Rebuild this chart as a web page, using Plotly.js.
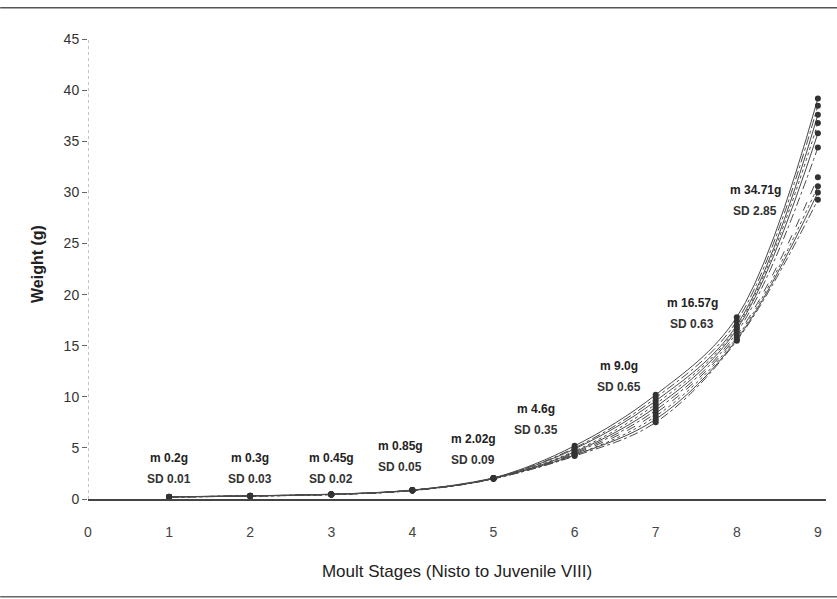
<!DOCTYPE html>
<html>
<head>
<meta charset="utf-8">
<script src="https://cdn.plot.ly/plotly-3.0.1.min.js"></script>
<style>html,body{margin:0;padding:0;background:#fff;}#chart{width:837px;height:599px;}</style>
</head>
<body>
<div id="chart"></div>
<script>
// Moult stages (x)
const stages = [1, 2, 3, 4, 5, 6, 7, 8, 9];
// Individual weight series (g)
const ind1  = [0.21, 0.32, 0.47, 0.88, 2.06, 5.2, 10.2, 17.8, 39.2];
const ind2  = [0.20, 0.31, 0.46, 0.87, 2.04, 5.0, 9.9, 17.4, 38.5];
const ind3  = [0.20, 0.30, 0.45, 0.86, 2.03, 4.9, 9.6, 17.0, 37.6];
const ind4  = [0.20, 0.30, 0.44, 0.85, 2.02, 4.7, 9.3, 16.8, 36.8];
const ind5  = [0.19, 0.29, 0.45, 0.84, 2.00, 4.6, 9.0, 16.6, 35.8];
const ind6  = [0.20, 0.28, 0.44, 0.83, 1.98, 4.5, 8.7, 16.3, 34.4];
const ind7  = [0.20, 0.30, 0.45, 0.82, 1.97, 4.4, 8.4, 16.0, 31.5];
const ind8  = [0.19, 0.29, 0.43, 0.84, 2.00, 4.3, 8.1, 15.8, 30.6];
const ind9  = [0.21, 0.31, 0.46, 0.86, 2.05, 4.3, 7.8, 15.6, 30.0];
const ind10 = [0.20, 0.30, 0.45, 0.85, 2.01, 4.2, 7.5, 15.5, 29.3];
const individuals = [ind1, ind2, ind3, ind4, ind5, ind6, ind7, ind8, ind9, ind10];
const dashes = ['solid', 'dashdot', 'solid', 'dot', 'solid', 'dashdot', 'dash', 'dot', 'solid', 'dashdot'];

// Stage annotations
const meanLabels = ['m 0.2g', 'm 0.3g', 'm 0.45g', 'm 0.85g', 'm 2.02g', 'm 4.6g', 'm 9.0g', 'm 16.57g', 'm 34.71g'];
const sdLabels   = ['SD 0.01', 'SD 0.03', 'SD 0.02', 'SD 0.05', 'SD 0.09', 'SD 0.35', 'SD 0.65', 'SD 0.63', 'SD 2.85'];
const labelX     = [1, 2, 3, 3.85, 4.75, 5.53, 6.55, 7.45, 8.23];
const labelY     = [3.0, 3.0, 3.0, 4.2, 4.9, 7.8, 12.0, 18.2, 29.3];

const xTicks = [0, 1, 2, 3, 4, 5, 6, 7, 8, 9];
const yTicks = [0, 5, 10, 15, 20, 25, 30, 35, 40, 45];

const traces = individuals.map((vals, i) => ({
  x: stages, y: vals, type: 'scatter', mode: 'lines+markers',
  line: {color: '#4a4a4a', width: 1, dash: dashes[i], shape: 'spline', smoothing: 1},
  marker: {color: '#333', size: 6},
  cliponaxis: false, showlegend: false, hoverinfo: 'x+y'
}));

const annotations = [];
meanLabels.forEach((t, i) => {
  annotations.push({x: labelX[i], y: labelY[i], xref: 'x', yref: 'y', text: '<b>' + t + '</b>',
    showarrow: false, font: {family: 'Liberation Sans, Arial', size: 12, color: '#222'}, yanchor: 'bottom', yshift: 1});
  annotations.push({x: labelX[i], y: labelY[i], xref: 'x', yref: 'y', text: '<b>' + sdLabels[i] + '</b>',
    showarrow: false, font: {family: 'Liberation Sans, Arial', size: 12, color: '#333'}, yanchor: 'top', yshift: -2});
});

const layout = {
  width: 837, height: 599,
  margin: {l: 88, r: 11, t: 29, b: 100},
  paper_bgcolor: '#fff', plot_bgcolor: '#fff',
  font: {family: 'Liberation Sans, Arial', color: '#333'},
  xaxis: {
    range: [0, 9.1], tickvals: xTicks, ticks: '', showgrid: false, zeroline: false,
    showline: true, linecolor: '#444', linewidth: 1.5,
    tickfont: {size: 14, color: '#444'}, ticklabelstandoff: 20,
    title: {text: 'Moult Stages (Nisto to Juvenile VIII)', font: {family: 'Liberation Sans, Arial', size: 17, color: '#222'}, standoff: 26}
  },
  yaxis: {
    range: [0, 46], tickvals: yTicks, ticks: 'outside', ticklen: 5, tickcolor: '#666',
    showgrid: false, zeroline: false, showline: false,
    tickfont: {size: 14, color: '#333'},
    title: {text: '<b>Weight (g)</b>', font: {size: 16, color: '#222'}, standoff: 16}
  },
  shapes: [
    {type: 'line', xref: 'x', yref: 'y', x0: 0, x1: 0, y0: 0, y1: 45, line: {color: '#888', width: 1, dash: 'dot'}},
    {type: 'line', xref: 'paper', yref: 'paper', x0: -0.119, x1: 1.015, y0: 1.045, y1: 1.045, line: {color: '#555', width: 1.5}},
    {type: 'line', xref: 'paper', yref: 'paper', x0: -0.119, x1: 1.015, y0: -0.208, y1: -0.208, line: {color: '#666', width: 1.5}}
  ],
  annotations: annotations
};

Plotly.newPlot('chart', traces, layout, {displayModeBar: false, staticPlot: true});
</script>
</body>
</html>
